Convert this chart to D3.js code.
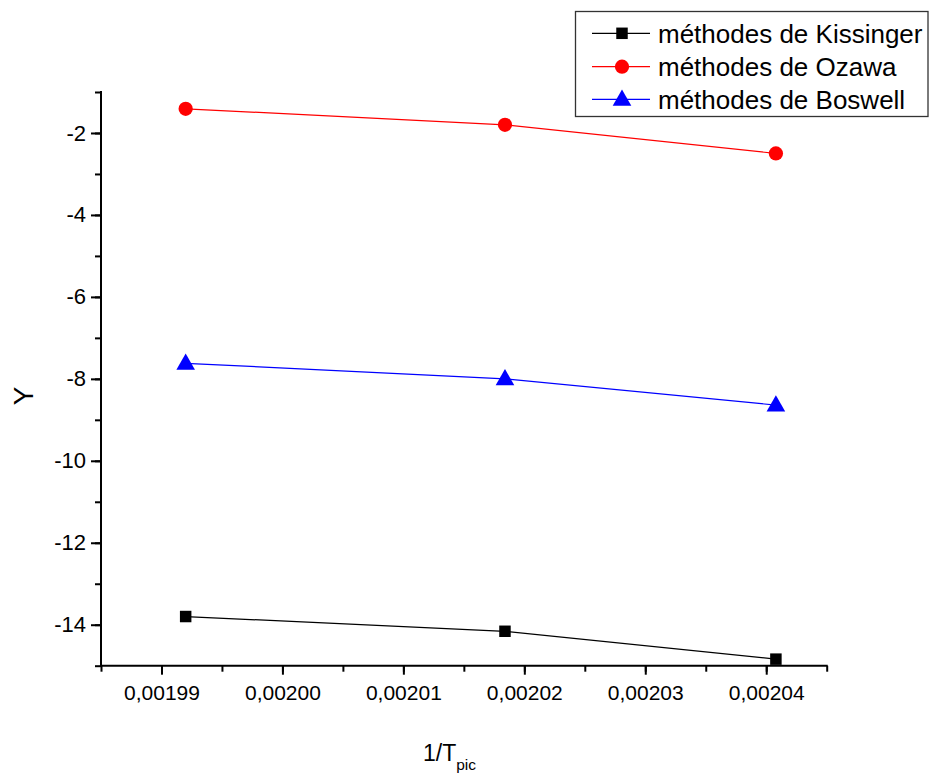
<!DOCTYPE html>
<html>
<head>
<meta charset="utf-8">
<script src="https://cdn.jsdelivr.net/npm/d3@7"></script>
<style>
  html, body { margin: 0; padding: 0; background: #fff; }
  svg { display: block; font-family: "Liberation Sans", Arial, sans-serif; }
</style>
</head>
<body>
<svg id="chart" width="931" height="783"></svg>
<script>
// 1/T_pic values (K^-1)
const xValues = [0.001992, 0.0020184, 0.0020408];
// Series values
const kissinger = [-13.80, -14.16, -14.84];
const ozawa = [-1.41, -1.80, -2.50];
const boswell = [-7.62, -8.00, -8.64];
const seriesNames = ["méthodes de Kissinger", "méthodes de Ozawa", "méthodes de Boswell"];
const seriesColors = ["#000000", "#ff0000", "#0000ff"];
const seriesSymbols = [d3.symbolSquare, d3.symbolCircle, d3.symbolTriangle];
const symbolSizes = [132, 160, 150];
// Axis ticks
const xTicks = [0.00199, 0.00200, 0.00201, 0.00202, 0.00203, 0.00204];
const xTickLabels = ["0,00199", "0,00200", "0,00201", "0,00202", "0,00203", "0,00204"];
const yTicks = [-14, -12, -10, -8, -6, -4, -2];
const yTickLabels = ["-14", "-12", "-10", "-8", "-6", "-4", "-2"];

const svg = d3.select("#chart");
const plotLeft = 101, plotRight = 826.7, plotTop = 92, plotBottom = 665.7;

const x = d3.scaleLinear().domain([0.001985, 0.002045]).range([plotLeft, plotRight]);
const y = d3.scaleLinear().domain([-15, -1]).range([plotBottom, plotTop]);

const xMinor = d3.range(0, 13).map(i => 0.001985 + i * 0.000005);
const yMinor = d3.range(-15, 0, 1);

// Axes
const gx = svg.append("g").attr("transform", `translate(0,${plotBottom})`);
gx.call(d3.axisBottom(x).tickValues(xMinor).tickSize(6).tickFormat(""));
gx.call(g => g.append("g").call(d3.axisBottom(x).tickValues(xTicks).tickSize(9)
    .tickFormat((d, i) => xTickLabels[i])));
gx.selectAll("line").attr("stroke", "#000").attr("stroke-width", 2);
gx.selectAll("text").attr("fill", "#000").attr("font-size", 21)
  .attr("font-family", "Liberation Sans, Arial, sans-serif").attr("dy", "1.05em");

const gy = svg.append("g").attr("transform", `translate(${plotLeft},0)`);
gy.call(d3.axisLeft(y).tickValues(yMinor).tickSize(6).tickFormat(""));
gy.call(g => g.append("g").call(d3.axisLeft(y).tickValues(yTicks).tickSize(10)
    .tickFormat((d, i) => yTickLabels[i])));
gy.selectAll("line").attr("stroke", "#000").attr("stroke-width", 2);
gy.selectAll("text").attr("fill", "#000").attr("font-size", 22)
  .attr("font-family", "Liberation Sans, Arial, sans-serif").attr("x", -15);
svg.selectAll("path.domain").remove();
svg.append("line").attr("x1", plotLeft).attr("x2", plotRight).attr("y1", plotBottom).attr("y2", plotBottom)
  .attr("stroke", "#000").attr("stroke-width", 2).attr("stroke-linecap", "square");
svg.append("line").attr("x1", plotLeft).attr("x2", plotLeft).attr("y1", plotTop).attr("y2", plotBottom)
  .attr("stroke", "#000").attr("stroke-width", 2).attr("stroke-linecap", "square");

// Axis titles
svg.append("text").attr("transform", "translate(33,396) rotate(-90)")
  .attr("text-anchor", "middle").attr("font-size", 28).text("Y");
const xt = svg.append("text").attr("x", 423).attr("y", 761).attr("font-size", 23);
xt.append("tspan").text("1/T");
xt.append("tspan").attr("dy", 9).attr("font-size", 15.5).text("pic");

// Series
const allSeries = [kissinger, ozawa, boswell];
const line = d3.line().x((d, i) => x(xValues[i])).y(d => y(d));
allSeries.forEach((vals, s) => {
  svg.append("path").datum(vals).attr("d", line).attr("fill", "none")
    .attr("stroke", seriesColors[s]).attr("stroke-width", 1.2);
  svg.selectAll(null).data(vals).enter().append("path")
    .attr("transform", (d, i) => `translate(${x(xValues[i])},${y(d) + (s === 2 ? 1 : 0)})`)
    .attr("d", d3.symbol().type(seriesSymbols[s]).size(symbolSizes[s]))
    .attr("fill", seriesColors[s]);
});

// Legend
const lg = svg.append("g");
lg.append("rect").attr("x", 575.5).attr("y", 11.5).attr("width", 352.5).attr("height", 105)
  .attr("fill", "#fff").attr("stroke", "#333").attr("stroke-width", 1.3);
const rowY = [33.3, 66.7, 99.3];
seriesNames.forEach((name, s) => {
  lg.append("line").attr("x1", 592).attr("x2", 650).attr("y1", rowY[s]).attr("y2", rowY[s])
    .attr("stroke", seriesColors[s]).attr("stroke-width", 1.2);
  lg.append("path").attr("transform", `translate(622,${rowY[s] + (s === 2 ? 1 : 0)})`)
    .attr("d", d3.symbol().type(seriesSymbols[s]).size(symbolSizes[s]))
    .attr("fill", seriesColors[s]);
  lg.append("text").attr("x", 658).attr("y", rowY[s] + 9.4).attr("font-size", 26)
    .attr("fill", "#000").text(name);
});
</script>
</body>
</html>
